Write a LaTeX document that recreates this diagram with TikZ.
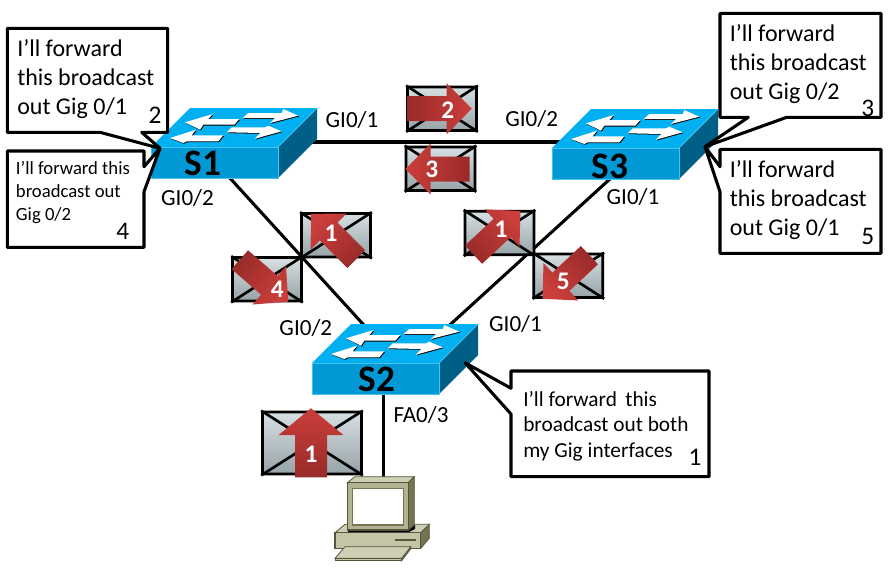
\documentclass[tikz,border=0pt]{standalone}
\usepackage{fontspec}
\setmainfont{Carlito}
\usetikzlibrary{calc}

\definecolor{swtop}{HTML}{00B0F0}
\definecolor{swfront}{HTML}{0099D6}
\definecolor{swedge}{HTML}{45C4F2}
\definecolor{swside}{HTML}{005F86}
\definecolor{flowdark}{HTML}{982B29}
\definecolor{flowlight}{HTML}{CB3E3B}
\definecolor{envlight}{HTML}{D6DFE2}
\definecolor{envdark}{HTML}{97A4A8}
\definecolor{pcline}{HTML}{55553C}
\definecolor{pcfront}{HTML}{B3B393}
\definecolor{pctop}{HTML}{CFCFB5}
\definecolor{pcside}{HTML}{757552}
\definecolor{pcbase}{HTML}{C4C4A6}

\tikzset{
	link/.style={line width=2.3pt, black},
	say/.style={line width=2.3pt, draw=black, fill=white, line join=round},
	saytext/.style={anchor=west, align=left, inner sep=0pt, font=\fontsize{18}{21.7}\selectfont},
	saynum/.style={inner sep=0pt, font=\fontsize{19}{22}\selectfont},
	iflabel/.style={inner sep=0pt, font=\fontsize{17.3}{20}\selectfont},
	swname/.style={inner sep=0pt, font=\fontsize{28}{30}\selectfont\bfseries},
	flownum/.style={inner sep=0pt, text=white, font=\fontsize{19}{22}\selectfont\bfseries},
	envelope/.style={draw=black, line width=2pt, inner sep=0pt, rounded corners=0.5pt,
		top color=envlight, bottom color=envdark, minimum width=69*0.75pt, minimum height=43.5*0.75pt},
	pics/lanswitch/.style={code={
		\fill[swtop] (0,-31) -- (127,-31) -- (166,-70) -- (39,-70) -- cycle;
		\fill[swside] (127,0) -- (127,-31) -- (166,-70) -- (166,-39) -- cycle;
		\draw[swedge, fill=swfront, line width=0.6pt] (0,0) rectangle (127,-31);
		\draw[swedge, line width=0.6pt] (127,-31) -- (166,-70);
		\foreach \off/\col in {0.8/black, 0/white} {
			\fill[\col, shift={(\off,\off)}]
				(34,-55.7) -- (61.7,-64) -- (57.3,-59) -- (88.3,-59) -- (83.3,-53.3) -- (52.3,-53.3) -- (49,-48.3) -- cycle
				(91.7,-60) -- (97.3,-65) -- (130.7,-65) -- (132.3,-69) -- (147.3,-62.3) -- (119,-55) -- (124,-60) -- cycle
				(19,-40) -- (45,-48.3) -- (40.7,-42.7) -- (72.3,-42.7) -- (67.3,-36.7) -- (35.7,-36.7) -- (32.3,-35) -- cycle
				(75.7,-45.7) -- (80.7,-50.7) -- (114,-50.7) -- (117.3,-52.3) -- (130.7,-46.7) -- (104,-39.3) -- (109,-45) -- cycle;
		}
	}},
	pics/flow/.style={code={
		\shade[left color=flowdark, right color=flowlight, shading angle=#1]
			(-32,-12.5) -- (7,-12.5) -- (7,-25.5) -- (32,0) -- (7,25.5) -- (7,12.5) -- (-32,12.5) -- cycle;
	}},
	pics/flow/.default=90
}

\newcommand{\envcross}[1]{
	\draw[line width=2pt] (#1.north west) -- (#1.south east)
		(#1.north east) -- (#1.south west);
}

\begin{document}
\begin{tikzpicture}[x=0.75pt, y=-0.75pt]
\useasboundingbox (0,0) rectangle (892,568);
\fill[white] (0,0) rectangle (892,568);

% link ends, hidden below the switches
\coordinate (S1e) at (300,142);
\coordinate (S3w) at (580,142);
\coordinate (S1s) at (229,177);
\coordinate (S2w) at (372,334);
\coordinate (S3s) at (611,178);
\coordinate (S2e) at (441,333);
\coordinate (S2s) at (383.5,390);
\coordinate (PCn) at (383.5,478);

\draw[link] (S1e) -- (S3w);
\draw[link] (S1s) -- (S2w);
\draw[link] (S3s) -- (S2e);
\draw[link] (S2s) -- (PCn);

% switches
\pic at (151,178) {lanswitch};
\pic at (552,179) {lanswitch};
\pic at (312,394) {lanswitch};
\node[swname] (S1) at (203,163) {S1};
\node[swname] (S3) at (610,166) {S3};
\node[swname] (S2) at (377,379) {S2};

% pc
\fill[pcside, draw=pcline, line width=0.6pt] (420.7,532.7) -- (429.3,524.3) -- (429.3,538.3) -- (420.7,548.3) -- cycle;
\fill[pctop, draw=pcline, line width=0.6pt] (335,532.7) -- (345,524.3) -- (429.3,524.3) -- (420.7,532.7) -- cycle;
\fill[pcbase, draw=pcline, line width=0.8pt] (335,532.7) rectangle (420.7,548.3);
\fill[pcline] (395,539) rectangle (416,541);
\fill[black] (348,530) -- (408,530) -- (415,525) -- (415,529) -- (409,532) -- (348,532) -- cycle;
\fill[pctop, draw=pcline, line width=0.6pt] (347.3,482.7) -- (355,476.7) -- (414.3,476.7) -- (408.3,482.7) -- cycle;
\fill[pcside, draw=pcline, line width=0.6pt] (408.3,482.7) -- (414.3,476.7) -- (414.3,525) -- (408.3,530) -- cycle;
\fill[pcfront, draw=pcline, line width=0.8pt] (347.3,482.7) rectangle (408.3,530);
\draw[pcside, fill=white, line width=1pt] (352.3,488.3) rectangle (403.3,525);
\fill[pcside, draw=pcline, line width=0.5pt] (401.7,558.3) -- (410.7,546.7) -- (410.7,549) -- (401.7,560.7) -- cycle;
\fill[pctop, draw=pcline, line width=0.6pt] (335,558.3) -- (345,546.7) -- (410.7,546.7) -- (401.7,558.3) -- cycle;
\fill[pcbase, draw=pcline, line width=0.6pt] (335,558.3) rectangle (401.7,560.7);

% frames
\node[envelope] (env2) at (442,108.7) {};
\node[envelope] (env3) at (440.5,168.7) {};
\node[envelope] (envA) at (336,235.3) {};
\node[envelope] (env4) at (267,279.3) {};
\node[envelope] (envB) at (499.5,233) {};
\node[envelope] (env5) at (568.3,275.7) {};
\node[envelope, minimum width=99*0.75pt, minimum height=62*0.75pt] (envC) at (312,443) {};
\foreach \e in {env2, env3, envA, env4, envB, env5, envC} {
	\envcross{\e}
}

\pic[rotate=0] at (439.7,108.7) {flow=90};
\pic[rotate=180] at (437.5,169) {flow=270};
\pic[rotate=135] at (333.6,236.5) {flow=225};
\pic[rotate=-41] at (264,280.7) {flow=49};
\pic[rotate=43] at (497,232.8) {flow=133};
\pic[rotate=223] at (566,277) {flow=313};
\pic[rotate=90, xscale=1.08, yscale=1.28] at (311,442.8) {flow=180};

\node[flownum] (n2) at (447.7,110) {2};
\node[flownum] (n3) at (431.7,169.3) {3};
\node[flownum] (nA) at (331,233) {1};
\node[flownum] (n4) at (277.3,289.3) {4};
\node[flownum] (nB) at (501,229.3) {1};
\node[flownum] (n5) at (563.3,281.7) {5};
\node[flownum] (nC) at (311,454) {1};

% interfaces
\node[iflabel] (ifA) at (352,120) {GI0/1};
\node[iflabel] (ifB) at (531.7,119.3) {GI0/2};
\node[iflabel] (ifC) at (187.5,198) {GI0/2};
\node[iflabel] (ifD) at (633,197) {GI0/1};
\node[iflabel] (ifE) at (305.8,328) {GI0/2};
\node[iflabel] (ifF) at (515.5,324) {GI0/1};
\node[iflabel] (ifG) at (421,415) {FA0/3};

% callouts
\coordinate (tipL) at (160,148.3);
\coordinate (tipR) at (705,146.7);
\coordinate (tipB) at (465,362.7);

\draw[say] (7.3,28.3) -- (167.7,28.3) -- (167.7,132.3) -- (141.7,132.3) -- (tipL) -- (100,132.3) -- (7.3,132.3) -- cycle;
\draw[say] (7.3,151) -- (144,151) -- (144,166.7) -- (tipL) -- (144,191.7) -- (144,247.3) -- (7.3,247.3) -- cycle;
\draw[say] (720,13.3) -- (881,13.3) -- (881,117.3) -- (786.7,117.3) -- (tipR) -- (748.3,117.3) -- (720,117.3) -- cycle;
\draw[say] (720,149.3) -- (881,149.3) -- (881,253.3) -- (720,253.3) -- (720,191.7) -- (tipR) -- (720,166.7) -- cycle;
\draw[say] (511,371) -- (709,371) -- (709,476.7) -- (511,476.7) -- (511,414) -- (tipB) -- (511,388.3) -- cycle;

\node[saytext] (sayA) at (17,79.5) {I’ll forward\\this broadcast\\out Gig 0/1};
\node[saytext, font=\fontsize{14}{17.2}\selectfont] (sayB) at (15.7,192.5) {I’ll forward this\\broadcast out\\Gig 0/2};
\node[saytext] (sayC) at (729.5,64) {I’ll forward\\this broadcast\\out Gig 0/2};
\node[saytext] (sayD) at (729.5,200) {I’ll forward\\this broadcast\\out Gig 0/1};
\node[saytext, font=\fontsize{16}{19}\selectfont] (sayE) at (523,426) {I’ll forward \,this\\broadcast out both\\my Gig interfaces};

\node[saynum] (numA) at (155,115.7) {2};
\node[saynum] (numB) at (122.7,231.7) {4};
\node[saynum] (numC) at (867.7,108.3) {3};
\node[saynum] (numD) at (867.7,236.7) {5};
\node[saynum] (numE) at (695,457.3) {1};
\end{tikzpicture}
\end{document}
